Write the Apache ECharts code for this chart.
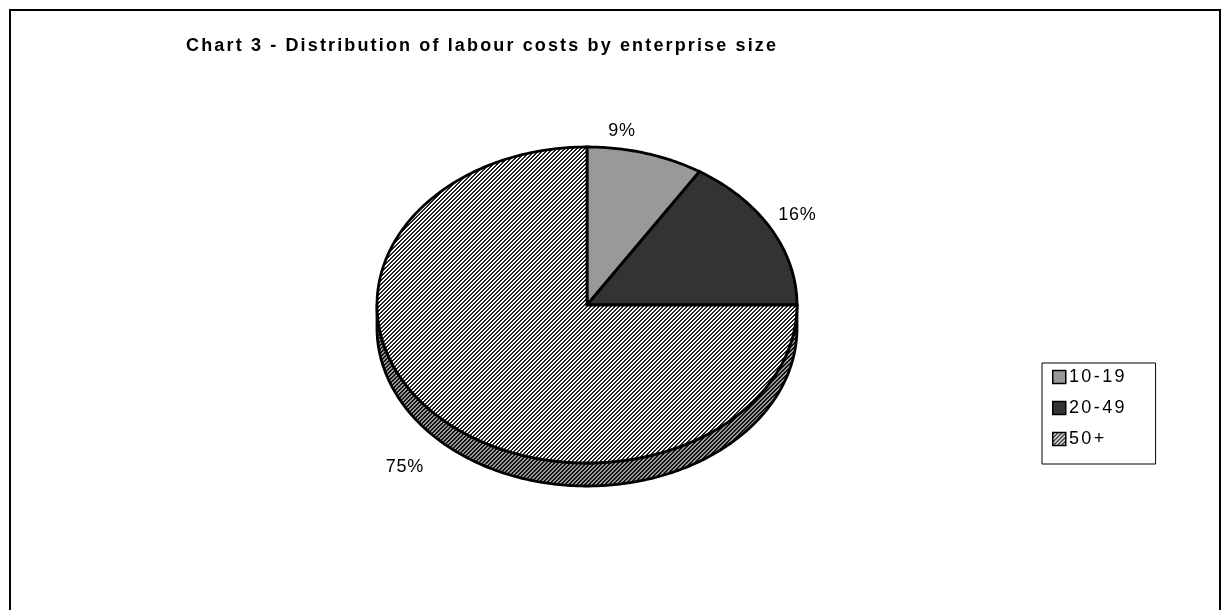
<!DOCTYPE html>
<html>
<head>
<meta charset="utf-8">
<script src="https://cdn.jsdelivr.net/npm/echarts@6/dist/echarts.min.js"></script>
<style>
  html, body { margin: 0; padding: 0; background: #fff; }
  #chart { width: 1221px; height: 610px; }
</style>
</head>
<body>
<div id="chart"></div>
<script>
// Chart text and values
const chartTitle = 'Chart 3 - Distribution of labour costs by enterprise size';
const categories = ['10-19', '20-49', '50+'];
const shares = [9, 16, 75];

// Layout of the tilted pie (pixels)
const PIE = { cx: 587, cy: 305, rx: 210, ry: 158, depth: 23 };
// Label nudges relative to the rim point at each slice's mid angle
const LABEL_NUDGE = [[-24, -22], [26, -14], [-34, 27]];
const FONT = '"Liberation Sans", Arial, sans-serif';

// Wrap every character in a rich-text token so the text can be tracked out
function tracked(str) {
  return str.split('').map(ch => '{t|' + ch + '}').join('');
}

// Small repeating canvases used as fills
function stripeCanvas(dark, light, period, darkWidth) {
  const c = document.createElement('canvas');
  c.width = period; c.height = period;
  const ctx = c.getContext('2d');
  for (let y = 0; y < period; y++) {
    for (let x = 0; x < period; x++) {
      ctx.fillStyle = ((x + y) % period) < darkWidth ? dark : light;
      ctx.fillRect(x, y, 1, 1);
    }
  }
  return c;
}
const hatchTop = { image: stripeCanvas('#222222', '#ffffff', 4, 2), repeat: 'repeat' };
const hatchSide = { image: stripeCanvas('#111111', '#9a9a9a', 4, 2), repeat: 'repeat' };
const fills = ['#999999', '#333333', hatchTop];

const total = shares.reduce((a, b) => a + b, 0);
const starts = [];
shares.reduce((acc, v, i) => { starts[i] = acc; return acc + v; }, 0);

function rim(t, dy) {
  return [PIE.cx + PIE.rx * Math.sin(t), PIE.cy - PIE.ry * Math.cos(t) + (dy || 0)];
}
function arc(t0, t1, dy) {
  const n = Math.max(2, Math.ceil(Math.abs(t1 - t0) / (Math.PI / 240)));
  const pts = [];
  for (let k = 0; k <= n; k++) pts.push(rim(t0 + (t1 - t0) * k / n, dy));
  return pts;
}

function makeRenderItem(i) {
  return function (params, api) {
    const value = api.value(0);
    const t0 = starts[i] / total * Math.PI * 2;
    const t1 = (starts[i] + value) / total * Math.PI * 2;
    const children = [];
    // visible front wall: the part of the rim in the lower half
    const a = Math.max(t0, Math.PI / 2);
    const b = Math.min(t1, Math.PI * 3 / 2);
    if (b > a) {
      const front = arc(a, b, 0).concat(arc(a, b, PIE.depth).reverse());
      children.push({
        type: 'polygon',
        shape: { points: front },
        style: { fill: hatchSide, stroke: '#000', lineWidth: 2.8, lineJoin: 'round' },
        z2: 1
      });
    }
    // top face
    const top = [[PIE.cx, PIE.cy]].concat(arc(t0, t1, 0));
    children.push({
      type: 'polygon',
      shape: { points: top },
      style: { fill: fills[i], stroke: '#000', lineWidth: 2.8, lineJoin: 'miter' },
      z2: 2
    });
    // percentage label
    const tm = (t0 + t1) / 2;
    const lower = Math.cos(tm) < 0;
    const p = rim(tm, lower ? PIE.depth : 0);
    children.push({
      type: 'text',
      x: p[0] + LABEL_NUDGE[i][0],
      y: p[1] + LABEL_NUDGE[i][1],
      style: {
        text: tracked(Math.round(value / total * 100) + '%'),
        rich: { t: { fontFamily: FONT, fontSize: 18, color: '#000', padding: [0, 0.4, 0, 0.4] } },
        align: 'center',
        verticalAlign: 'middle'
      },
      z2: 3
    });
    return { type: 'group', children: children };
  };
}

const chart = echarts.init(document.getElementById('chart'), null, { renderer: 'canvas' });
chart.setOption({
  animation: false,
  backgroundColor: '#ffffff',
  title: {
    text: tracked(chartTitle),
    left: 185,
    top: 37,
    padding: 0,
    textStyle: {
      fontFamily: FONT,
      fontWeight: 'bold',
      fontSize: 18,
      color: '#000',
      rich: {
        t: { fontFamily: FONT, fontWeight: 'bold', fontSize: 18, color: '#000', padding: [0, 1.07, 0, 1.07] }
      }
    }
  },
  legend: {
    orient: 'vertical',
    left: 1042,
    top: 363,
    padding: [5, 31, 16, 10],
    itemGap: 13,
    itemWidth: 13,
    itemHeight: 13,
    icon: 'rect',
    borderColor: '#000',
    borderWidth: 1,
    itemStyle: { borderColor: '#000', borderWidth: 1.5 },
    formatter: name => tracked(name),
    textStyle: {
      fontFamily: FONT,
      fontSize: 18,
      color: '#000',
      padding: [0, 0, 0, -3],
      rich: { t: { fontFamily: FONT, fontSize: 18, color: '#000', padding: [0, 1.2, 0, 1.2] } }
    },
    data: categories
  },
  graphic: [{
    type: 'rect',
    shape: { x: 10, y: 10, width: 1210, height: 700 },
    style: { fill: 'none', stroke: '#000', lineWidth: 2 },
    silent: true,
    z: -1
  }],
  series: categories.map((name, i) => ({
    type: 'custom',
    name: name,
    coordinateSystem: 'none',
    itemStyle: { color: fills[i] },
    renderItem: makeRenderItem(i),
    data: [[shares[i]]]
  }))
});
</script>
</body>
</html>
